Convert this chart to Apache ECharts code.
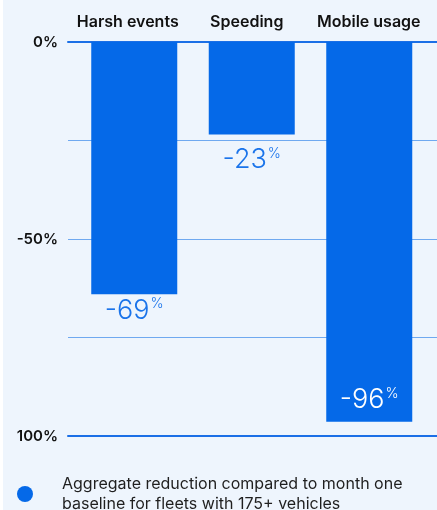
<!DOCTYPE html>
<html>
<head>
<meta charset="utf-8">
<script src="https://cdn.jsdelivr.net/npm/echarts@6/dist/echarts.min.js"></script>
<style>
html,body{margin:0;padding:0;background:#ffffff;}
#c{position:absolute;left:3px;top:0;width:434px;height:510px;background:#eef5fd;}
</style>
</head>
<body>
<div id="c"></div>
<script>
var categories = ['Harsh events', 'Speeding', 'Mobile usage'];
var barValues = [-64, -23.5, -96.4];
var valueLabels = ['-69', '-23', '-96'];
var tickLabels = {'0': '0%', '-50': '-50%', '-100': '100%'};
var seriesName = 'Aggregate reduction compared to month one\nbaseline for fleets with 175+ vehicles';

var BLUE = '#0569e8';
var FONT = 'Inter';

var labelStyles = [
  {position: 'outside', distance: 0, color: '#1b74ea'},
  {position: 'outside', distance: 9, color: '#1b74ea'},
  {position: 'insideBottom', distance: 8, color: '#ffffff'}
];
var categoryShift = [13, 10, 1];

var data = barValues.map(function (v, i) {
  var ls = labelStyles[i];
  return {
    value: v,
    label: {
      show: true,
      position: ls.position,
      distance: ls.distance,
      formatter: '{n|' + valueLabels[i] + '}{p|%}',
      rich: {
        n: {fontFamily: FONT, fontSize: 27, fontWeight: 300, color: ls.color, lineHeight: 30, verticalAlign: 'bottom'},
        p: {fontFamily: FONT, fontSize: 14, fontWeight: 300, color: ls.color, lineHeight: 30, verticalAlign: 'bottom', padding: [0, 0, 13, 1]}
      }
    }
  };
});

var categoryData = categories.map(function (c, i) {
  return {value: c, textStyle: {padding: [0, categoryShift[i], 0, 0]}};
});

var chart = echarts.init(document.getElementById('c'), null, {renderer: 'canvas'});
chart.setOption({
  backgroundColor: '#eef5fd',
  animation: false,
  grid: [
    {left: 65, right: 0, top: 42, bottom: 74},
    {left: 72.5, right: 9, top: 42, bottom: 74}
  ],
  legend: {
    left: 9,
    top: 469,
    icon: 'circle',
    itemWidth: 16,
    itemHeight: 16,
    data: [seriesName],
    textStyle: {fontFamily: FONT, fontSize: 16, color: '#1f1f1f', lineHeight: 20, padding: [0, 0, 0, 24]}
  },
  xAxis: [
    {gridIndex: 0, type: 'category', data: categories, position: 'top',
     axisLine: {show: true, lineStyle: {color: '#1b6fe6', width: 2}}, axisTick: {show: false}, axisLabel: {show: false}},
    {gridIndex: 0, type: 'category', data: categories, position: 'bottom',
     axisLine: {show: true, lineStyle: {color: '#1b6fe6', width: 2}}, axisTick: {show: false}, axisLabel: {show: false}},
    {gridIndex: 1, type: 'category', data: categoryData, position: 'top',
     axisLine: {show: false}, axisTick: {show: false},
     axisLabel: {interval: 0, fontFamily: FONT, fontSize: 16, fontWeight: 600, color: '#111111', margin: 12}}
  ],
  yAxis: [
    {gridIndex: 0, type: 'value', min: -100, max: 0, interval: 25,
     axisLine: {show: false}, axisTick: {show: false},
     splitLine: {show: true, lineStyle: {color: '#6fa9f0', width: 1}},
     axisLabel: {fontFamily: FONT, fontSize: 15, fontWeight: 600, color: '#111111', margin: 10,
       formatter: function (v) { return tickLabels[String(v)] || ''; }}},
    {gridIndex: 1, type: 'value', min: -100, max: 0, show: false, splitLine: {show: false}}
  ],
  series: [{
    name: seriesName,
    type: 'bar',
    xAxisIndex: 2,
    yAxisIndex: 1,
    barWidth: 86,
    itemStyle: {color: BLUE},
    data: data
  }]
});
</script>
</body>
</html>
